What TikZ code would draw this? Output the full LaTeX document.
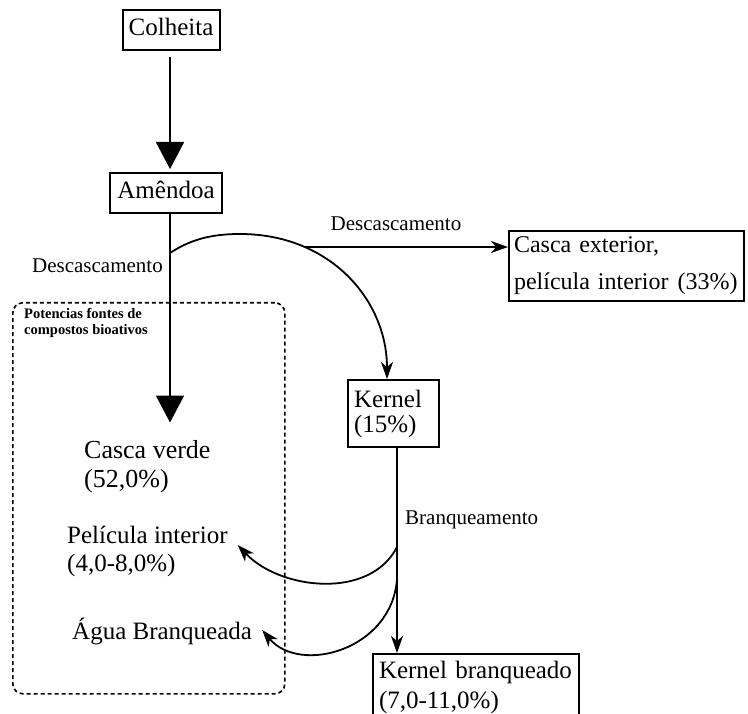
\documentclass[tikz,border=0pt]{standalone}
\usepackage{fontspec}
\setmainfont{Liberation Serif}
\usetikzlibrary{arrows.meta,calc}
\begin{document}
\begin{tikzpicture}[x=1pt,y=-1pt,
  box/.style={draw,line width=2pt,inner sep=6pt,font=\fontsize{25}{29}\selectfont},
  single/.style={text height=17pt,text depth=5pt},
  lbl/.style={inner sep=0pt,align=left},
  small/.style={inner sep=0pt,font=\fontsize{21}{24}\selectfont,text height=14pt,text depth=4pt},
  arr/.style={line width=1.8pt,-{Stealth[length=17pt,width=12pt,inset=5pt]}},
  bigarr/.style={line width=1.8pt,-{Triangle[length=27pt,width=28pt]}}]
\useasboundingbox (0,0) rectangle (748,714);
\clip (0,0) rectangle (748,714);

% boxes
\node[box,single,minimum width=97pt,minimum height=40pt] (colheita) at (171,30) {Colheita};
\node[box,single,minimum width=112pt,minimum height=40pt] (amendoa) at (166,193) {Amêndoa};
\node[box,align=left,text width=225pt,minimum height=67pt,anchor=north west,inner xsep=5pt,font=\fontsize{24}{37}\selectfont] (casca) at (508,230) {\mbox{Casca exterior,}\\\mbox{película interior\hspace{9pt}(33\%)}};
\node[box,align=left,text width=79pt,minimum height=67pt,anchor=north west,font=\fontsize{25}{25}\selectfont] (kernel) at (347,379) {Kernel\\(15\%)};
\node[box,align=left,text width=194pt,minimum height=66pt,anchor=north west,font=\fontsize{25}{30}\selectfont] (kernelb) at (372,653) {Kernel branqueado\\(7,0-11,0\%)};

% dashed group
\node[draw,line width=1.6pt,dash pattern=on 4pt off 3pt,rounded corners=10pt,minimum width=272pt,minimum height=391pt,anchor=north west,inner sep=0pt] (group) at (12,302) {};
\node[anchor=north west,inner sep=0pt,align=left,font=\bfseries\fontsize{14.5}{16}\selectfont] (title) at (24,308) {Potencias fontes de\\compostos bioativos};

% products
\node[lbl,anchor=west,font=\fontsize{26}{29}\selectfont] (verde) at (84,467) {Casca verde\\(52,0\%)};
\node[lbl,anchor=west,font=\fontsize{25}{28}\selectfont] (pelicula) at (67,551) {Película interior\\(4,0-8,0\%)};
\node[lbl,single,anchor=west,font=\fontsize{25}{29}\selectfont] (agua) at (72,633) {Água Branqueada};

% labels
\node[small,anchor=east] (d1) at (163,268) {Descascamento};
\node[small] (d2) at (396,226) {Descascamento};
\node[small,anchor=west] (br) at (405,519) {Branqueamento};

% connectors
\coordinate (split1) at (170,253);
\coordinate (split2) at (305,247);
\coordinate (kdown) at ($(kernel.south west)+(50,0)$);
\coordinate (b1) at ($(kdown)+(0,99)$);
\coordinate (b2) at ($(kdown)+(0,131)$);

\draw[bigarr,shorten <=6pt,shorten >=3pt] (colheita.south -| split1) -- (amendoa.north -| split1);
\draw[bigarr,shorten >=18pt] (amendoa.south -| split1) -- (verde.north -| split1);
\draw[arr] (split1) .. controls (190,240) and (210,234) .. (240,234)
  .. controls (330,234) and (387,300) .. ($(kernel.north west)+(40,0)$);
\draw[arr] (split2) -- (split2 -| casca.west);
\draw[arr] (kdown) -- (kdown |- kernelb.north);
\draw[arr] (b1) .. controls (370,600) and (280,590) .. ($(pelicula.east)+(10,-6)$);
\draw[arr] (b2) .. controls (392,650) and (300,675) .. ($(agua.east)+(10,-3)$);
\end{tikzpicture}
\end{document}
